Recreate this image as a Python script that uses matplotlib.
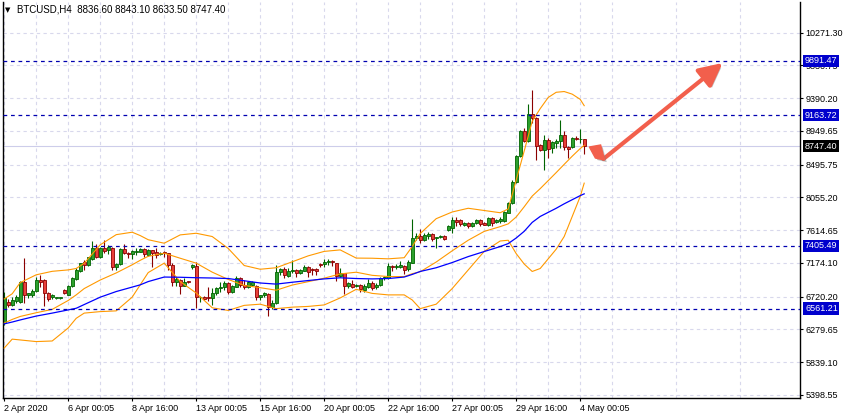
import numpy as np
import matplotlib
matplotlib.use('Agg')
import matplotlib.pyplot as plt
import matplotlib.transforms as mtransforms
import matplotlib.patheffects as pe
from matplotlib.patches import Polygon

plt.rcParams['font.family'] = ['Liberation Sans', 'DejaVu Sans']

# BTCUSD H4 candles, bar 0 = 2 Apr 2020
opens = [6363, 6655, 6610, 6668, 6655, 6915, 6740, 6745, 6800, 6947,
         6940, 6767, 6710, 6700, 6700, 6812, 6750, 6860, 6960, 7072,
         7190, 7148, 7225, 7373, 7260, 7373, 7350, 7380, 7117, 7162,
         7359, 7310, 7292, 7328, 7328, 7364, 7283, 7350, 7328, 7296,
         7328, 7305, 7148, 6924, 6946, 6870, 6928, 7117, 7140, 6713,
         6722, 6709, 6700, 6767, 6834, 6848, 6910, 6789, 6857, 6969,
         6879, 6857, 6879, 6866, 6722, 6744, 6758, 6578, 6632, 7050,
         7090, 7000, 7072, 7081, 7036, 7072, 7126, 7090, 7090, 7162,
         7162, 7193, 7207, 7171, 7000, 7036, 6866, 6892, 6870, 6879,
         6812, 6857, 6910, 6848, 6879, 6969, 6969, 7135, 7117, 7126,
         7135, 7090, 7180, 7507, 7538, 7485, 7538, 7565, 7507, 7520,
         7538, 7620, 7642, 7754, 7754, 7687, 7718, 7673, 7709, 7754,
         7718, 7687, 7777, 7732, 7745, 7745, 7853, 7978, 8270, 8607,
         8943, 8808, 9181, 9123, 8764, 8688, 8831, 8719, 8786, 8808,
         8898, 8732, 8732, 8853, 8836, 8836.6]
highs = [6780, 6686, 6713, 6740, 6937, 7240, 6775, 6821, 6990, 7013,
         6955, 6790, 6760, 6705, 6705, 6821, 6879, 6982, 7103, 7180,
         7216, 7251, 7476, 7431, 7395, 7485, 7420, 7385, 7180, 7370,
         7431, 7320, 7350, 7380, 7375, 7373, 7360, 7355, 7373, 7320,
         7335, 7314, 7171, 6982, 6955, 6969, 6935, 7160, 7190, 6735,
         6730, 6857, 6834, 6855, 6924, 6935, 6920, 6880, 7000, 6990,
         6950, 6935, 6935, 6875, 6745, 6790, 6767, 6677, 7148, 7113,
         7126, 7103, 7215, 7090, 7090, 7150, 7135, 7105, 7105, 7170,
         7225, 7225, 7215, 7180, 7103, 7045, 6924, 6946, 6885, 6885,
         6893, 6955, 6937, 6900, 6991, 7000, 7171, 7148, 7162, 7202,
         7148, 7216, 7763, 7575, 7628, 7575, 7597, 7575, 7530, 7552,
         7552, 7680, 7799, 7799, 7763, 7732, 7730, 7730, 7763, 7763,
         7725, 7786, 7790, 7763, 7799, 7875, 8000, 8285, 8630, 8966,
         8988, 9316, 9495, 9135, 8773, 8898, 8853, 8817, 8840, 9091,
         8943, 8750, 8862, 8876, 8974, 8843.1]
lows = [6340, 6578, 6596, 6640, 6641, 6632, 6700, 6713, 6789, 6857,
        6597, 6668, 6690, 6695, 6695, 6760, 6740, 6850, 6946, 7054,
        7081, 7135, 7216, 7238, 7238, 7305, 7300, 7081, 7081, 7150,
        7290, 7240, 7230, 7280, 7320, 7260, 7270, 7117, 7238, 7280,
        7260, 7081, 6866, 6866, 6758, 6860, 6910, 7090, 6565, 6654,
        6680, 6668, 6610, 6745, 6790, 6815, 6760, 6770, 6850, 6855,
        6820, 6835, 6860, 6677, 6677, 6722, 6466, 6550, 6625, 7014,
        6969, 6983, 7036, 6983, 7020, 7060, 6991, 7014, 7014, 7125,
        7117, 7148, 7135, 6933, 6983, 6758, 6835, 6835, 6848, 6790,
        6790, 6835, 6812, 6820, 6866, 6950, 6955, 7072, 7090, 7103,
        7027, 7072, 7171, 7485, 7440, 7476, 7494, 7476, 7382, 7507,
        7485, 7600, 7584, 7665, 7665, 7673, 7642, 7655, 7700, 7673,
        7680, 7673, 7665, 7709, 7718, 7732, 7843, 7969, 8255, 8598,
        8795, 8795, 9055, 8562, 8674, 8418, 8584, 8652, 8719, 8719,
        8696, 8584, 8718, 8830, 8786, 8633.5]
closes = [6700, 6615, 6677, 6722, 6924, 6740, 6765, 6800, 6950, 6924,
          6767, 6690, 6745, 6700, 6702, 6767, 6866, 6969, 7081, 7168,
          7148, 7250, 7373, 7260, 7373, 7341, 7395, 7117, 7162, 7359,
          7305, 7300, 7337, 7337, 7364, 7292, 7350, 7305, 7283, 7305,
          7305, 7148, 6924, 6955, 6870, 6924, 6919, 7148, 6713, 6722,
          6691, 6700, 6767, 6834, 6857, 6910, 6789, 6866, 6969, 6879,
          6848, 6915, 6915, 6722, 6744, 6776, 6578, 6632, 7050, 7095,
          7014, 7072, 7081, 7036, 7081, 7126, 7059, 7081, 7072, 7148,
          7193, 7207, 7193, 7000, 7036, 6866, 6901, 6857, 6879, 6821,
          6866, 6910, 6834, 6879, 6978, 6982, 7135, 7117, 7135, 7148,
          7081, 7193, 7507, 7538, 7485, 7552, 7565, 7494, 7520, 7538,
          7494, 7665, 7754, 7732, 7700, 7718, 7665, 7718, 7754, 7700,
          7687, 7777, 7718, 7754, 7763, 7866, 7978, 8270, 8616, 8943,
          8817, 9181, 9123, 8741, 8688, 8831, 8710, 8795, 8817, 8898,
          8732, 8710, 8853, 8840, 8844, 8747.4]

# indicator values at these bars
ind_bars = [0, 2, 4, 8, 12, 16, 18, 20, 24, 28, 32, 34, 36, 40, 44, 48, 52, 56,
            60, 64, 68, 72, 76, 80, 84, 88, 92, 96, 100, 102, 104, 108, 112, 116,
            120, 124, 126, 128, 130, 132, 134, 136, 138, 140, 142, 144, 145]
bb_upper = [6690, 6760, 6910, 7015, 7062, 7081, 7100, 7170, 7418, 7555, 7588, 7543,
            7487, 7440, 7552, 7574, 7530, 7370, 7140, 7090, 7110, 7190, 7270, 7330,
            7350, 7240, 7238, 7230, 7245, 7395, 7570, 7770, 7860, 7910, 7880, 7850,
            7900, 8290, 8680, 9080, 9250, 9400, 9470, 9480, 9445, 9375, 9290]
bb_middle = [6365, 6415, 6455, 6505, 6550, 6670, 6745, 6830, 6945, 7040, 7150, 7210,
             7264, 7306, 7238, 7172, 7051, 6953, 6872, 6842, 6808, 6877, 6923, 6970,
             7027, 7050, 7008, 6992, 6991, 7030, 7056, 7187, 7338, 7480, 7599, 7663,
             7700, 7793, 7930, 8074, 8174, 8282, 8390, 8501, 8610, 8713, 8757]
bb_lower = [6030, 6150, 6139, 6117, 6125, 6300, 6430, 6500, 6520, 6530, 6715, 6880,
            7045, 7172, 6924, 6770, 6572, 6536, 6604, 6620, 6560, 6580, 6590, 6610,
            6704, 6820, 6765, 6745, 6745, 6677, 6560, 6620, 6830, 7080, 7330, 7470,
            7480, 7300, 7160, 7060, 7100, 7230, 7360, 7530, 7799, 8068, 8248]
ma_slow = [6355, 6380, 6408, 6460, 6500, 6543, 6565, 6615, 6714, 6790, 6850, 6880,
           6924, 6985, 6982, 6976, 6972, 6965, 6935, 6905, 6890, 6915, 6938, 6960,
           6975, 6965, 6960, 6965, 6985, 7020, 7060, 7110, 7180, 7260, 7328, 7395,
           7435, 7510, 7600, 7720, 7800, 7855, 7910, 7970, 8025, 8080, 8104]

levels = [9891.47, 9163.72, 7405.49, 6561.21]

price_ticks = [10271.30, 9830.75, 9390.20, 8949.65, 8495.75, 8055.20,
               7614.65, 7174.10, 6720.20, 6279.65, 5839.10, 5398.55]
time_labels = ['2 Apr 2020', '6 Apr 00:05', '8 Apr 16:00', '13 Apr 00:05',
               '15 Apr 16:00', '20 Apr 00:05', '22 Apr 16:00', '27 Apr 00:05',
               '29 Apr 16:00', '4 May 00:05']

# hand drawn arrow (bar, price)
arrow_tail = (149.8, 8573)
arrow_tip = (179.6, 9864)
arrow_wing = [(146.3, 8734), (149.1, 8761), (150.1, 8559), (147.8, 8586)]

UP_FILL, UP_EDGE = '#2ca02c', '#006400'
DN_FILL, DN_EDGE = '#e8403a', '#8b0000'
BAND = '#ff9900'
MA_BLUE = '#0000ff'
LEVEL_LINE = '#0000b0'
LABEL_BLUE = '#0000cd'
GRID = '#d8d8ec'
ARROW_RED = '#f25f4c'

o = np.array(opens)
h = np.array(highs)
l = np.array(lows)
c = np.array(closes)
idx = np.arange(len(c))
up = c >= o

fig = plt.figure(figsize=(8.46, 4.19), dpi=100)
ax = fig.add_axes([3 / 846, 21 / 419, 797 / 846, 396 / 419])
ax.set_xlim(-0.3, 198.95)
ax.set_ylim(5358.2, 10684.2)

# grid
ax.set_yticks(price_ticks)
ax.set_yticklabels([f'{v:.2f}' for v in price_ticks])
ax.yaxis.tick_right()
ax.set_xticks(np.arange(len(time_labels)) * 16)
ax.set_xticklabels(time_labels)
ax.set_xticks(np.arange(8, 199, 16), minor=True)
for lab in ax.get_xticklabels():
    lab.set_ha('left')
ax.grid(True, which='both', color=GRID, ls=(0, (3, 3)), lw=0.8, zorder=0)
ax.set_axisbelow(True)
ax.tick_params(axis='both', which='major', direction='out', length=2.5, width=0.8,
               pad=1.5, labelsize=6.5, colors='black')
ax.tick_params(axis='x', which='minor', length=0)
ax.spines['top'].set_visible(False)
for s in ('left', 'right', 'bottom'):
    ax.spines[s].set_linewidth(1.0)
    ax.spines[s].set_color('black')

# current price line
ax.axhline(c[-1], color='#cdcdea', lw=0.8, zorder=1)

# candles
body_low = np.minimum(o, c)
body_h = np.maximum(np.abs(c - o), 10)
ax.vlines(idx[up], l[up], h[up], color=UP_EDGE, lw=0.8, zorder=2)
ax.vlines(idx[~up], l[~up], h[~up], color=DN_EDGE, lw=0.8, zorder=2)
ax.bar(idx[up], body_h[up], bottom=body_low[up], width=0.72, color=UP_FILL,
       edgecolor=UP_EDGE, linewidth=0.6, zorder=2)
ax.bar(idx[~up], body_h[~up], bottom=body_low[~up], width=0.72, color=DN_FILL,
       edgecolor=DN_EDGE, linewidth=0.6, zorder=2)

# indicators
ax.plot(ind_bars, bb_upper, color=BAND, lw=0.8, zorder=3)
ax.plot(ind_bars, bb_middle, color=BAND, lw=0.8, zorder=3)
ax.plot(ind_bars, bb_lower, color=BAND, lw=0.8, zorder=3)
ax.plot(ind_bars, ma_slow, color=MA_BLUE, lw=0.9, zorder=3)

# horizontal levels with price tags
trans = mtransforms.blended_transform_factory(ax.transAxes, ax.transData)
for v in levels:
    ax.axhline(v, color=LEVEL_LINE, lw=0.9, ls=(0, (3, 3)), zorder=3)
    ax.text(1 + 5 / 797, v, f'{v:.2f}', transform=trans, ha='left', va='center',
            fontsize=6.5, color='white', clip_on=False, zorder=6,
            bbox=dict(boxstyle='square,pad=0.18', fc=LABEL_BLUE, ec='none'))
ax.text(1 + 5 / 797, c[-1], f'{c[-1]:.2f}', transform=trans, ha='left', va='center',
        fontsize=6.5, color='white', clip_on=False, zorder=6,
        bbox=dict(boxstyle='square,pad=0.18', fc='black', ec='none'))

# arrow
shadow = [pe.SimplePatchShadow(offset=(1.5, -1.5), shadow_rgbFace='#808080', alpha=0.5),
          pe.Normal()]
ax.annotate('', xy=arrow_tip, xytext=arrow_tail, annotation_clip=False,
            arrowprops=dict(arrowstyle='-|>,head_length=1.0,head_width=0.5',
                            color=ARROW_RED, lw=3, mutation_scale=14,
                            shrinkA=0, shrinkB=0, path_effects=shadow), zorder=5)
ax.add_patch(Polygon(arrow_wing, closed=True, fc=ARROW_RED, ec=ARROW_RED, lw=1,
                     path_effects=shadow, zorder=5))

# header
fig.text(5 / 846, 1 - 10 / 419, '\u25bc', fontsize=5, va='center', ha='left',
         family=['DejaVu Sans'])
fig.text(17 / 846, 1 - 10 / 419,
         f'BTCUSD,H4  {o[-1]:.2f} {h[-1]:.2f} {l[-1]:.2f} {c[-1]:.2f}',
         fontsize=7, va='center', ha='left')

fig.savefig('out.png', dpi=100)
